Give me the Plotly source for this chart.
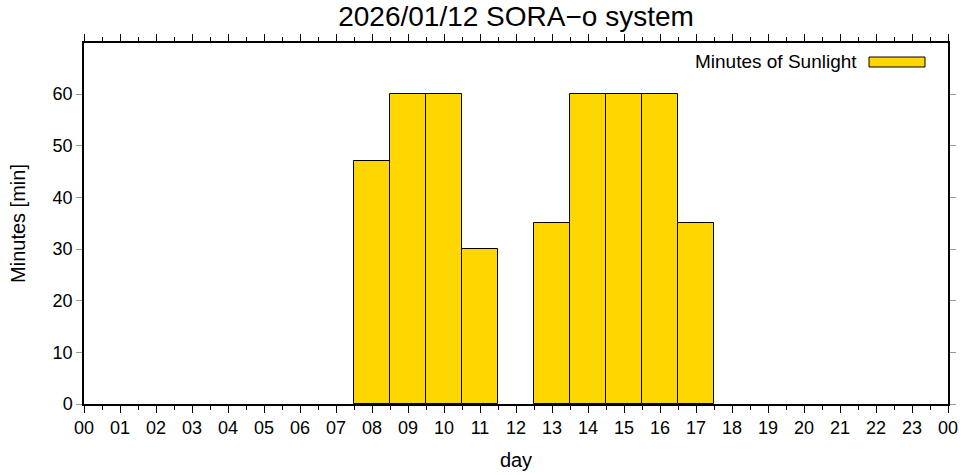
"""Minutes of sunlight per hour, gnuplot-style bar chart."""

import plotly.graph_objects as go

HOURS = list(range(24))
HOUR_LABELS = ["%02d" % h for h in range(24)] + ["00"]
SUNLIGHT_MIN = [0, 0, 0, 0, 0, 0, 0, 0, 47, 60, 60, 30,
                0, 35, 60, 60, 60, 35, 0, 0, 0, 0, 0, 0]
Y_TICKS = [0, 10, 20, 30, 40, 50, 60]

TITLE = "2026/01/12 SORA\u2212o system"
SERIES_NAME = "Minutes of Sunlight"
BAR_COLOR = "#FFD700"
FONT = "Liberation Sans, Arial, Helvetica, sans-serif"

# plot box in pixels (gnuplot output)
L, R, T, B = 84, 948, 43, 404
W, H = R - L, B - T


def px(x):
    return (x - L) / W


def py(y):
    return 1 - (y - T) / H


fig = go.Figure()
fig.add_trace(
    go.Bar(
        x=HOURS,
        y=[v if v else None for v in SUNLIGHT_MIN],
        width=1.0,
        name=SERIES_NAME,
        marker=dict(color=BAR_COLOR, line=dict(color="black", width=1)),
        showlegend=False,
    )
)

# legend drawn by hand so the key is a wide bar like gnuplot's
fig.add_annotation(
    x=px(859), y=py(62), xref="paper", yref="paper", text=SERIES_NAME,
    showarrow=False, xanchor="right", yanchor="middle",
    font=dict(size=19, color="black"),
)
fig.add_shape(
    type="rect", xref="paper", yref="paper",
    x0=px(869), x1=px(925), y0=py(67), y1=py(57),
    fillcolor=BAR_COLOR, line=dict(color="black", width=1),
)

fig.update_layout(
    width=961,
    height=475,
    margin=dict(l=L, r=961 - R, t=T, b=475 - B),
    paper_bgcolor="white",
    plot_bgcolor="white",
    font=dict(family=FONT, size=18, color="black"),
    title=dict(text=TITLE, x=0.5, xref="paper", y=1 - 16 / 475,
               yanchor="middle", font=dict(size=28)),
    bargap=0,
)
fig.update_xaxes(
    range=[0, 24],
    tickvals=list(range(25)),
    ticktext=HOUR_LABELS,
    ticks="outside", ticklen=7, tickcolor="black", tickwidth=1,
    minor=dict(dtick=0.5, tick0=0, ticks="outside", ticklen=4,
               tickcolor="black", tickwidth=1),
    showline=True, linecolor="black", linewidth=1.5, mirror="allticks",
    showgrid=False, zeroline=False, automargin=False,
    title=dict(text="day", standoff=16, font=dict(size=20)),
)
fig.update_yaxes(
    range=[0, 69.9],
    tickvals=Y_TICKS,
    ticks="outside", ticklen=6, tickcolor="#999999", tickwidth=1,
    showline=True, linecolor="black", linewidth=1.5, mirror="allticks",
    showgrid=False, zeroline=False, automargin=False,
    title=dict(text="Minutes [min]", standoff=22, font=dict(size=20)),
)

fig.write_html(
    "out.html",
    config={"displayModeBar": False},
    post_script="document.body.style.margin = '0';",
)
